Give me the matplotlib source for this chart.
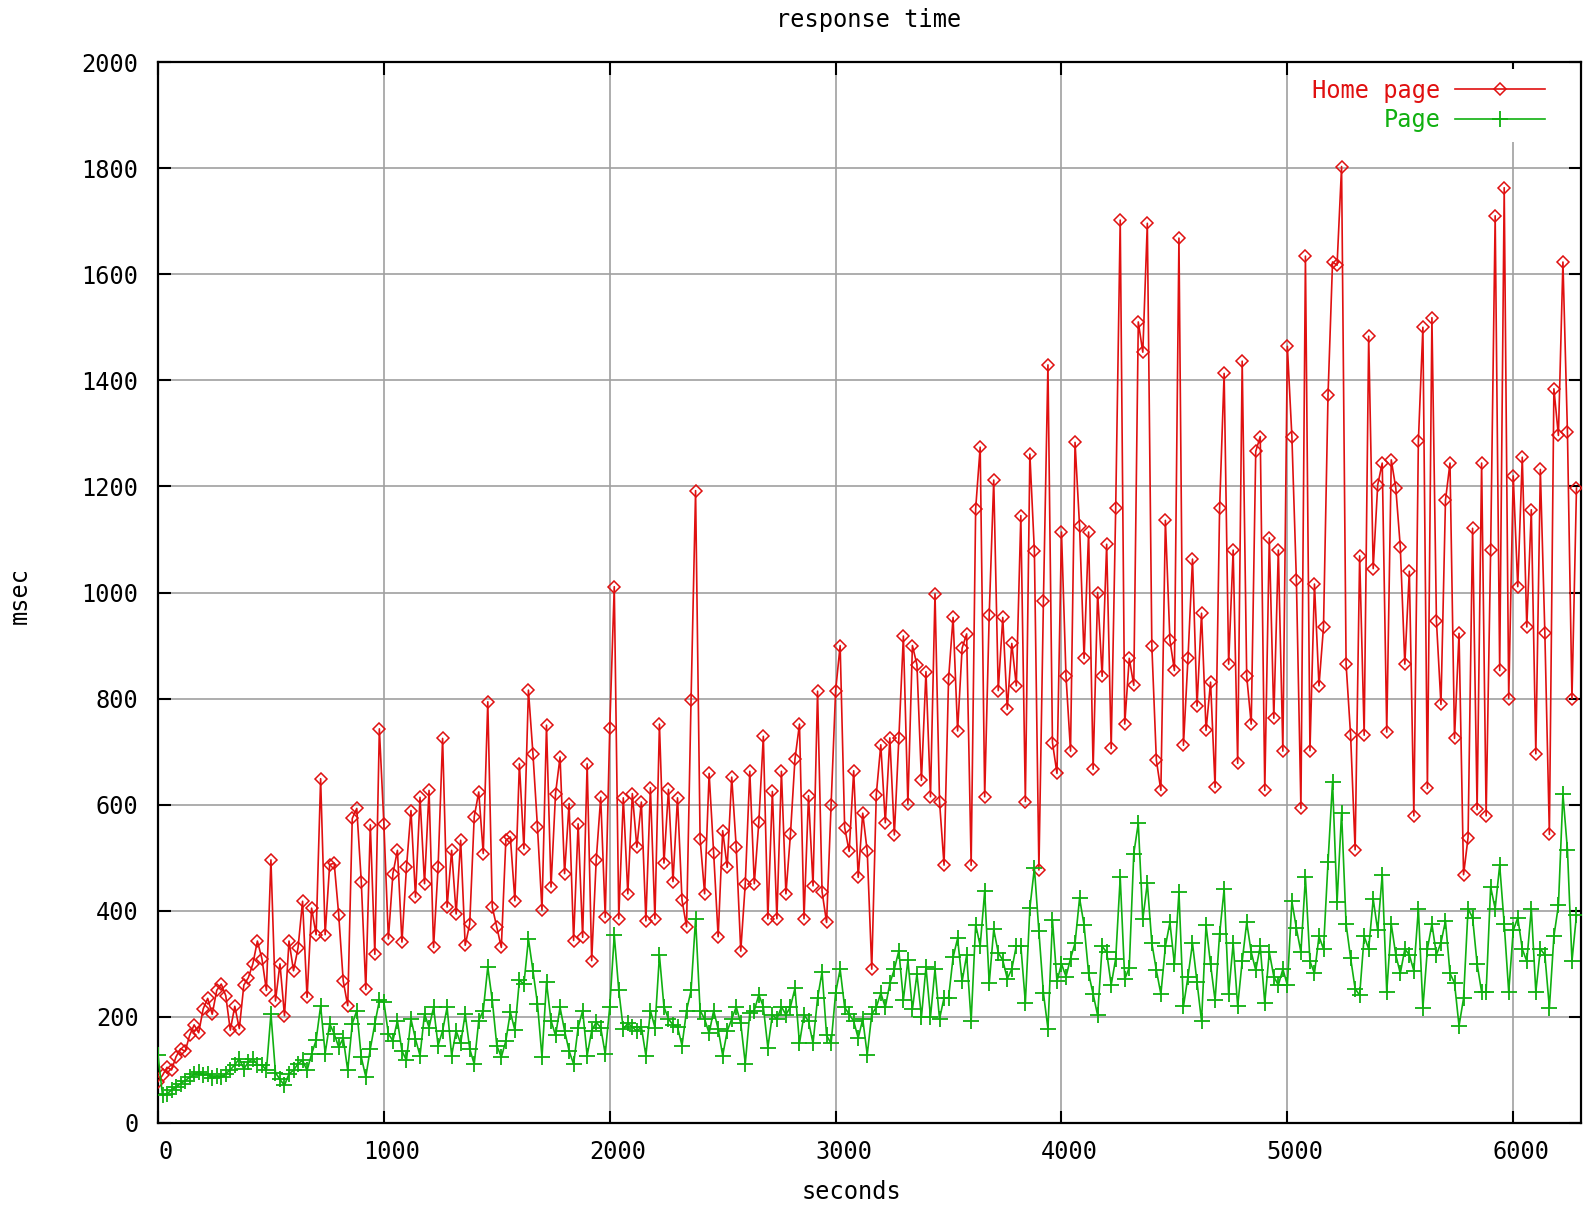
import numpy as np
import matplotlib
matplotlib.use("Agg")
import matplotlib.pyplot as plt
from matplotlib.transforms import ScaledTranslation

# ----------------------
# données (un point toutes les 20 s)
# ----------------------
STEP = 20  # secondes entre deux mesures

home_page = [
    78, 90, 105, 100, 125, 140, 135, 165, 185, 170,
    215, 235, 205, 250, 262, 240, 175, 220, 178, 260,
    274, 300, 343, 310, 250, 496, 230, 300, 202, 343,
    287, 330, 418, 237, 405, 355, 649, 355, 487, 490,
    393, 268, 221, 574, 593, 455, 252, 562, 318, 743,
    564, 347, 470, 514, 341, 482, 589, 426, 614, 451,
    627, 331, 482, 725, 407, 514, 394, 533, 335, 375,
    577, 624, 508, 794, 407, 369, 331, 533, 539, 419,
    677, 517, 816, 696, 558, 401, 750, 445, 621, 690,
    470, 602, 344, 564, 350, 677, 306, 495, 614, 388,
    744, 1011, 385, 613, 432, 621, 520, 605, 381, 632,
    385, 752, 490, 629, 455, 613, 420, 370, 798, 1192,
    536, 432, 659, 509, 351, 551, 482, 652, 520, 324,
    451, 663, 451, 567, 729, 385, 625, 385, 663, 432,
    544, 686, 752, 385, 617, 447, 814, 436, 378, 600,
    815, 900, 557, 512, 664, 463, 584, 512, 290, 619,
    713, 566, 726, 543, 726, 918, 601, 900, 864, 646,
    851, 615, 998, 606, 486, 837, 953, 739, 895, 922,
    486, 1158, 1274, 615, 958, 1212, 815, 953, 780, 904,
    824, 1145, 606, 1261, 1078, 477, 984, 1429, 717, 659,
    1114, 842, 701, 1283, 1125, 876, 1114, 667, 1000, 842,
    1091, 706, 1159, 1702, 752, 876, 825, 1510, 1453, 1696,
    899, 684, 627, 1136, 910, 853, 1668, 712, 876, 1063,
    786, 961, 740, 831, 633, 1159, 1413, 865, 1080, 678,
    1436, 842, 752, 1266, 1294, 627, 1103, 763, 1080, 701,
    1464, 1294, 1023, 593, 1634, 702, 1016, 824, 935, 1372,
    1623, 1617, 1803, 865, 731, 515, 1069, 731, 1483, 1045,
    1203, 1244, 737, 1250, 1197, 1086, 865, 1040, 579, 1285,
    1500, 631, 1518, 946, 789, 1174, 1244, 725, 923, 468,
    538, 1121, 591, 1244, 579, 1080, 1710, 853, 1763, 800,
    1220, 1011, 1255, 935, 1156, 696, 1232, 923, 544, 1384,
    1296, 1623, 1302, 800, 1197,
]

page = [
    128, 52, 55, 62, 68, 74, 80, 86, 92, 96,
    90, 92, 84, 88, 86, 93, 100, 110, 121, 102,
    115, 121, 110, 109, 100, 206, 95, 82, 71, 93,
    99, 112, 118, 99, 130, 156, 221, 131, 187, 168,
    143, 160, 99, 187, 212, 124, 87, 140, 187, 231,
    228, 168, 155, 193, 136, 118, 196, 158, 127, 206,
    180, 218, 146, 174, 218, 127, 174, 150, 206, 140,
    111, 193, 212, 294, 231, 146, 124, 155, 209, 175,
    269, 262, 347, 287, 225, 124, 265, 193, 165, 218,
    174, 136, 111, 180, 212, 127, 174, 190, 180, 130,
    219, 354, 250, 177, 188, 181, 173, 181, 127, 212,
    180, 316, 219, 196, 185, 181, 146, 212, 250, 385,
    212, 196, 169, 212, 177, 127, 173, 196, 219, 188,
    112, 208, 212, 242, 219, 142, 204, 196, 219, 204,
    219, 254, 150, 204, 192, 150, 235, 285, 165, 150,
    245, 290, 218, 205, 192, 160, 196, 129, 205, 218,
    245, 218, 263, 290, 325, 232, 307, 214, 281, 200,
    294, 200, 290, 196, 236, 236, 312, 348, 267, 316,
    192, 374, 334, 437, 263, 365, 321, 307, 272, 290,
    334, 334, 227, 405, 481, 361, 245, 178, 383, 267,
    300, 276, 310, 339, 424, 373, 282, 243, 203, 333,
    322, 260, 310, 463, 271, 293, 508, 565, 384, 452,
    339, 288, 243, 333, 378, 299, 435, 220, 276, 339,
    265, 192, 373, 299, 231, 356, 441, 243, 339, 220,
    305, 378, 322, 288, 333, 226, 322, 276, 260, 290,
    260, 418, 367, 322, 463, 305, 282, 352, 328, 492,
    643, 416, 585, 375, 311, 253, 241, 352, 328, 422,
    363, 468, 247, 375, 317, 282, 328, 317, 287, 404,
    217, 328, 375, 317, 340, 381, 282, 264, 183, 235,
    404, 387, 300, 247, 247, 445, 404, 486, 375, 247,
    363, 387, 328, 305, 404, 247, 328, 317, 217, 352,
    410, 620, 515, 305, 392,
]

x_ticks = [0, 1000, 2000, 3000, 4000, 5000, 6000]
y_ticks = list(range(0, 2001, 200))

RED = "#e01010"
GREEN = "#10b010"
FONT = "DejaVu Sans Mono"
FS = 17

plt.rcParams["font.family"] = FONT

fig = plt.figure(figsize=(15.83, 12.06), dpi=100)
ax = fig.add_axes([158 / 1583, 83 / 1206, (1581 - 158) / 1583, (1123 - 62) / 1206])

t_home = np.arange(len(home_page)) * STEP
t_page = np.arange(len(page)) * STEP

ax.plot(t_home, home_page, color=RED, lw=1.2, marker="D", ms=6.3,
        mfc="none", mec=RED, mew=1.1, label="Home page", zorder=3)
ax.plot(t_page, page, color=GREEN, lw=1.2, marker="+", ms=11,
        mec=GREEN, mew=1.3, label="Page", zorder=4)

ax.set_xlim(0, 6300)
ax.set_ylim(0, 2000)
ax.set_xticks(x_ticks)
ax.set_yticks(y_ticks)
ax.grid(True, color="#a0a0a0", lw=1.2)
ax.set_axisbelow(True)
for s in ax.spines.values():
    s.set_linewidth(1.6)
ax.tick_params(direction="in", top=True, right=True, length=9, width=1.5,
               labelsize=FS, pad=12)
ax.tick_params(axis="y", pad=14)

# gnuplot décale un peu les étiquettes x vers la droite
off = ScaledTranslation(8 / 100, 0, fig.dpi_scale_trans)
for lab in ax.get_xticklabels():
    lab.set_transform(lab.get_transform() + off)

fig.text(869 / 1583, 1 - 20 / 1206, "response time", ha="center", va="center", fontsize=FS)
fig.text(851 / 1583, 1 - 1192 / 1206, "seconds", ha="center", va="center", fontsize=FS)
fig.text(20 / 1583, 1 - 596 / 1206, "msec", ha="center", va="center", rotation=90, fontsize=FS)

leg = ax.legend(loc="upper right", bbox_to_anchor=(0.986, 1.0), markerfirst=False,
                numpoints=1, fontsize=FS, frameon=True, facecolor="white",
                edgecolor="none", framealpha=1, handlelength=3.8, borderaxespad=0.3,
                labelspacing=0.25, handletextpad=0.6, fancybox=False)
for txt, c in zip(leg.get_texts(), [RED, GREEN]):
    txt.set_color(c)

fig.savefig("out.png", dpi=100)
